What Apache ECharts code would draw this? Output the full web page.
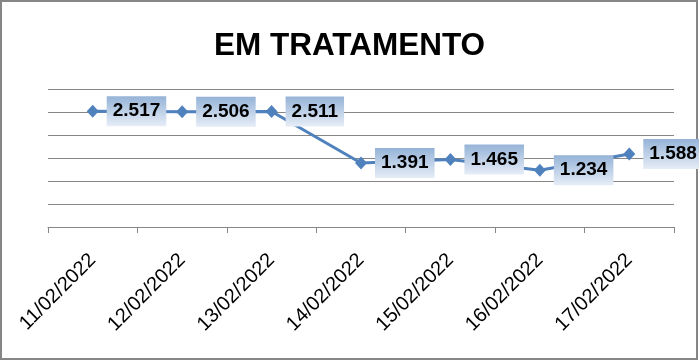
<!DOCTYPE html>
<html>
<head>
<meta charset="utf-8">
<script src="https://cdn.jsdelivr.net/npm/echarts@6/dist/echarts.min.js"></script>
<style>
html,body{margin:0;padding:0;background:#fff;}
#c{width:699px;height:361px;}
</style>
</head>
<body>
<div id="c"></div>
<script>
const titleText = 'EM TRATAMENTO';
const categories = ['11/02/2022','12/02/2022','13/02/2022','14/02/2022','15/02/2022','16/02/2022','17/02/2022'];
const values = [2517, 2506, 2511, 1391, 1465, 1234, 1588];
const yMin = 0, yMax = 3000, yInterval = 500;

function fmt(v){
  return String(v).replace(/\B(?=(\d{3})+(?!\d))/g, '.');
}

const chart = echarts.init(document.getElementById('c'), null, {renderer:'canvas'});
const FONT = '"Liberation Sans", Arial, sans-serif';
chart.setOption({
  animation:false,
  backgroundColor:'#fff',
  title:{
    text:titleText, left:'center', top:25,
    textStyle:{fontFamily:FONT, fontSize:31.5, fontWeight:'bold', color:'#000'}
  },
  graphic:[{
    type:'rect', shape:{x:1,y:1,width:696,height:358},
    style:{fill:'none', stroke:'#868686', lineWidth:2}, silent:true, z:-1
  }],
  grid:{left:48, right:25, top:89, bottom:134, containLabel:false},
  xAxis:{
    type:'category', data:categories, boundaryGap:true,
    axisLine:{lineStyle:{color:'#868686', width:1}},
    axisTick:{show:true, length:6, lineStyle:{color:'#868686'}},
    axisLabel:{rotate:45, margin:30, fontFamily:FONT, fontSize:20, color:'#000'}
  },
  yAxis:{
    type:'value', min:yMin, max:yMax, interval:yInterval,
    axisLine:{show:false}, axisTick:{show:false}, axisLabel:{show:false},
    splitLine:{lineStyle:{color:'#868686', width:1}}
  },
  series:[{
    type:'line', data:values,
    lineStyle:{color:'#4F81BD', width:3},
    itemStyle:{color:'#4F81BD'},
    symbol:'diamond', symbolSize:[12,13],
    label:{
      show:true, position:'right', distance:8,
      formatter:p=>fmt(p.value),
      fontFamily:FONT, fontSize:19, fontWeight:'bold', color:'#000',
      lineHeight:19, padding:[6,6,5,6],
      backgroundColor:new echarts.graphic.LinearGradient(0,0,0,1,[
        {offset:0,color:'#95B3D7'},{offset:1,color:'#E6EDF7'}
      ])
    }
  }]
});
</script>
</body>
</html>
